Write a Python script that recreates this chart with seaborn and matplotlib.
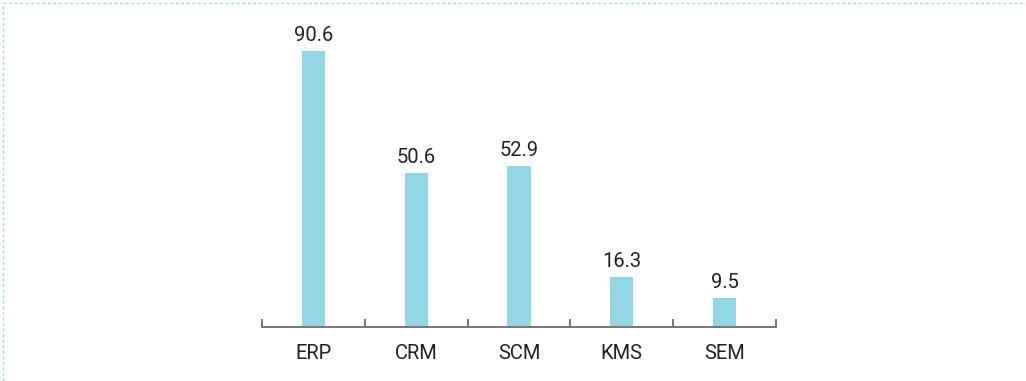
import matplotlib
matplotlib.use("Agg")
import matplotlib.pyplot as plt
from matplotlib.lines import Line2D
import seaborn as sns
import pandas as pd

categories = ["ERP", "CRM", "SCM", "KMS", "SEM"]
values = [90.6, 50.6, 52.9, 16.3, 9.5]

sns.set_theme(style="white")
plt.rcParams["font.family"] = ["Roboto", "DejaVu Sans"]

df = pd.DataFrame({"cat": categories, "val": values})

fig = plt.figure(figsize=(10.26, 3.81), dpi=100)
ax = fig.add_axes([262/1026, 54/381, 514/1026, 304.6/381])

sns.barplot(data=df, x="cat", y="val", color="#93D7E7", saturation=1,
            width=0.225, ax=ax, edgecolor="none")

ax.set_xlim(-0.5, 4.5)
ax.set_ylim(0, 100)
for s in ["top", "right", "left"]:
    ax.spines[s].set_visible(False)
ax.spines["bottom"].set_color("#6b6b6b")
ax.spines["bottom"].set_linewidth(1.3)

ax.set_yticks([])
ax.set_xticks([i - 0.5 for i in range(6)], minor=False)
ax.set_xticklabels([])
ax.tick_params(axis="x", which="major", direction="in", length=6, width=1.3,
               color="#6b6b6b", bottom=True)
ax.set_xticks(range(5), minor=True)
ax.set_xticklabels(categories, minor=True)
ax.tick_params(axis="x", which="minor", length=0, pad=12, labelsize=14.5,
               labelcolor="#222222")
ax.set_xlabel("")
ax.set_ylabel("")

for i, v in enumerate(values):
    ax.annotate(f"{v}", (i, v), xytext=(0, 4.5), textcoords="offset points",
                ha="center", va="bottom", fontsize=14.5, color="#222222")

fig.add_artist(Line2D([3/1026, 1], [1 - 3/381, 1 - 3/381], transform=fig.transFigure,
                      color="#9ED8DA", linestyle=(0, (2, 2)), linewidth=1))
fig.add_artist(Line2D([3/1026, 3/1026], [0, 1 - 3/381], transform=fig.transFigure,
                      color="#9ED8DA", linestyle=(0, (2, 2)), linewidth=1))

fig.savefig("out.png", dpi=100, facecolor="white")
